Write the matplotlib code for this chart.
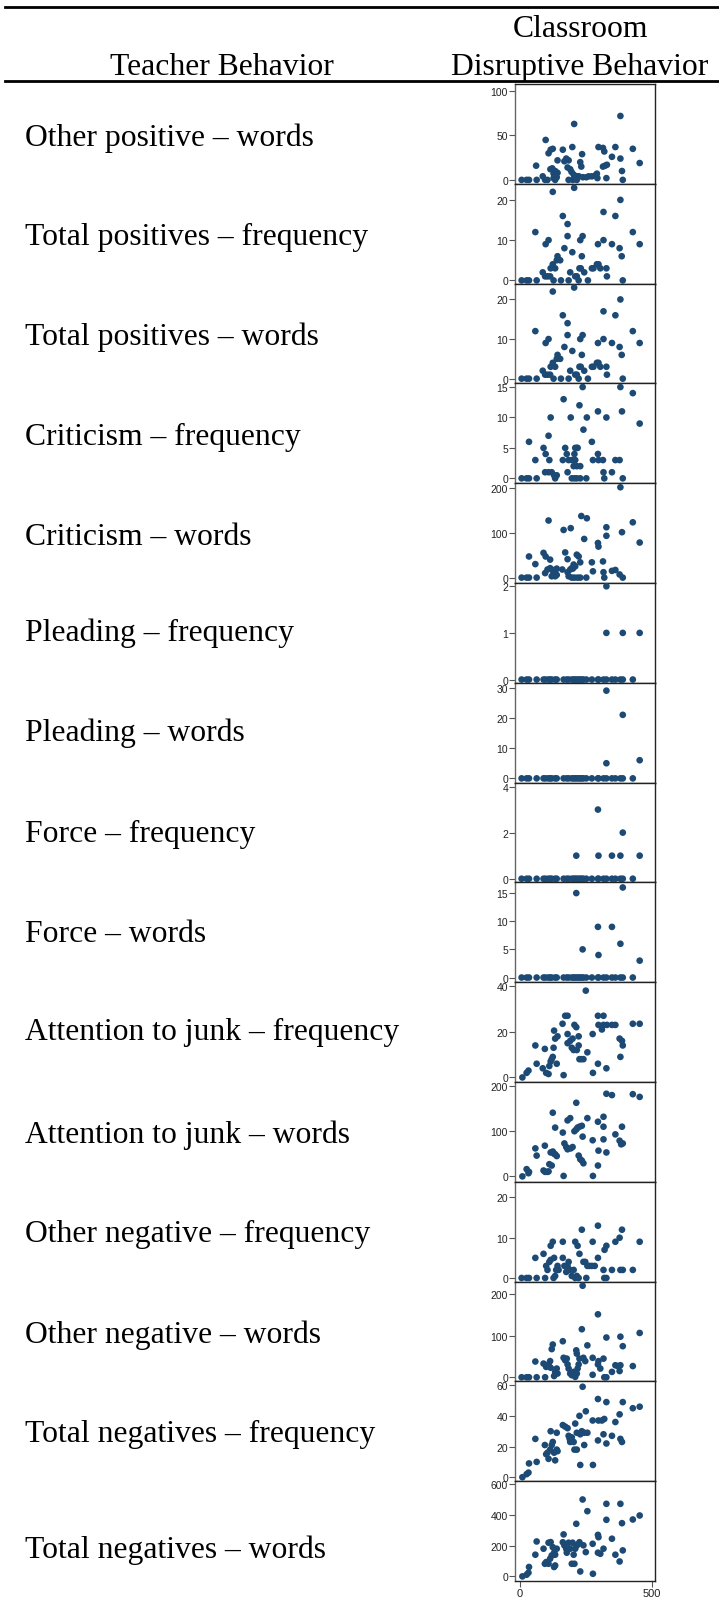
import matplotlib
matplotlib.use("Agg")
import matplotlib.pyplot as plt
from matplotlib.lines import Line2D

# ---------------- data ----------------
row_labels = [
    "Other positive – words",
    "Total positives – frequency",
    "Total positives – words",
    "Criticism – frequency",
    "Criticism – words",
    "Pleading – frequency",
    "Pleading – words",
    "Force – frequency",
    "Force – words",
    "Attention to junk – frequency",
    "Attention to junk – words",
    "Other negative – frequency",
    "Other negative – words",
    "Total negatives – frequency",
    "Total negatives – words",
]

header_left = "Teacher Behavior"
header_right = "Classroom\nDisruptive Behavior"

x_ticks = [0, 500]

y_ticks = [
    [0, 50, 100], [0, 10, 20], [0, 10, 20], [0, 5, 10, 15], [0, 100, 200],
    [0, 1, 2], [0, 10, 20, 30], [0, 2, 4], [0, 5, 10, 15], [0, 20, 40],
    [0, 100, 200], [0, 10, 20], [0, 100, 200], [0, 20, 40, 60], [0, 200, 400, 600],
]

y_limits = [
    (-4.4, 108), (-0.8, 24), (-1.2, 24), (-0.8, 15.6), (-12, 210),
    (-0.07, 2.07), (-1.4, 31.6), (-0.16, 4.17), (-0.83, 16.9), (-2, 41.7),
    (-12, 209), (-0.9, 23.9), (-10, 231), (-2.6, 62.5), (-30, 619),
]

other_pos_words = [(6,0),(25,0),(34,0),(61,16),(63,0),(86,4),(97,45),(108,30),(116,34),(124,35),
    (115,12),(122,13),(133,10),(142,8),(127,7),(139,3),(142,22),(95,0),(104,0),(133,0),(127,2),
    (162,34),(168,21),(175,24),(184,22),(180,14),(190,12),(184,0),
    (198,37),(205,63),(195,9),(203,6),(209,3),(215,4),(200,0),(215,0),
    (228,20),(232,15),(235,29),(223,4),(238,3),(251,3),(260,4),
    (272,4),(285,5),(291,7),(293,2),(297,37),(314,36),(319,32),(314,15),(322,16),(329,17),(327,2),
    (348,26),(361,37),(380,72),(380,24),(386,10),(389,0),(427,35),(453,19)]

total_pos_freq = [(6,0),(25,0),(34,0),(58,12),(63,0),(86,2),(97,9),(108,10),(95,1),(104,1),(114,1),
    (116,3),(124,4),(133,3),(124,22),(139,5),(142,6),(152,5),(127,0),(155,0),
    (162,16),(168,8),(180,14),(180,11),(184,0),(190,2),(198,7),(205,23),(209,1),(215,1),(222,0),
    (225,3),(230,3),(228,10),(237,11),(234,6),(243,2),(257,0),(272,3),(278,3),(291,4),(297,4),
    (304,3),(295,9),(316,17),(316,10),(327,3),(329,1),(348,9),(361,16),(377,8),(380,20),(385,6),
    (389,0),(427,12),(453,9)]

total_pos_words = list(total_pos_freq)

criticism_freq = [(6,0),(25,0),(34,0),(34,6),(58,3),(63,0),(89,5),(97,4),(108,7),(111,3),(116,10),
    (95,1),(108,1),(120,1),(129,0.5),(133,0),(139,0.5),(165,13),(162,3),(171,5),(177,4),(184,3),
    (180,1),(192,10),(196,3),(203,2),(206,4),(209,5),(215,5),(218,5),(209,3),(215,2),(225,12),
    (228,2),(228,0),(237,15),(240,8),(251,0),(253,10),(272,6),(276,3),(295,11),(295,4),(297,3),
    (314,3),(316,1),(319,0),(327,10),(348,1),(361,3),(377,3),(380,15),(386,11),(389,0),(427,14),
    (453,9),(196,0),(206,0),(215,0)]

criticism_words = [(6,0),(25,0),(34,0),(34,47),(58,30),(63,0),(89,55),(97,47),(108,127),(114,40),
    (95,10),(104,18),(114,21),(120,3),(127,10),(133,3),(139,6),(165,106),(171,56),(180,41),
    (192,110),(196,21),(203,29),(209,25),(215,51),(222,47),(228,34),(184,3),(196,0),(206,0),
    (218,0),(228,0),(251,0),(232,137),(253,132),(243,86),(272,34),(276,14),(295,77),(297,69),
    (314,36),(316,12),(319,0),(327,112),(327,93),(348,15),(361,17),(377,7),(380,201),(386,101),
    (389,0),(427,123),(453,78),(120,18),(133,15),(139,20),(160,18),(180,12),(190,18),(200,20)]

zero_x = [6,25,34,63,89,97,108,114,120,133,139,165,177,184,196,203,209,215,222,228,234,240,
          251,272,295,297,316,327,348,361,380,389,427]

pleading_freq_nz = [(327,1),(389,1),(453,1),(327,2)]
pleading_words_nz = [(327,29),(389,21),(327,5),(453,6)]
force_freq_nz = [(213,1),(295,3),(297,1),(348,1),(380,1),(389,2),(453,1)]
force_words_nz = [(213,15),(237,5),(295,9),(297,4),(348,9),(380,6),(389,16),(453,3)]

junk_freq = [(9,0),(25,2),(32,3),(58,14),(63,6),(86,4),(94,12.5),(99,2),(108,1.5),(111,5),(116,7),
    (120,8),(124,9),(127,13),(129,20.5),(133,17),(142,18),(139,6),(165,1),(161,23.5),(171,27),
    (180,27),(180,19),(180,15),(190,16),(199,17),(196,13),(203,12),(215,12),(222,14),(206,23),
    (213,22),(222,18),(225,8),(232,8),(240,8),(249,38),(255,11),(275,19),(276,2),(295,27),
    (297,23),(316,27),(295,6),(310,21),(316,23),(329,23),(348,23),(361,23),(327,4),(377,17),
    (380,9),(386,16),(389,14),(427,23.5),(453,23.5)]

junk_words = [(9,0),(25,16),(32,7),(34,10),(58,62),(63,46),(89,13),(95,10),(104,10),(108,11),
    (94,68),(111,27),(120,24),(124,55),(129,50),(133,49),(139,45),(116,53),(124,141),(133,108),
    (162,97),(165,1),(168,73),(175,65),(180,124),(190,129),(180,60),(192,62),(199,65),(206,100),
    (213,104),(218,108),(225,110),(234,112),(213,163),(222,46),(228,38),(234,35),(240,29),
    (237,88),(255,129),(275,80),(276,1),(295,121),(316,132),(295,24),(297,57),(316,110),
    (316,82),(327,183),(327,53),(348,180),(361,93),(377,79),(383,71),(389,73),(386,110),
    (427,182),(453,176)]

other_neg_freq = [(6,0),(25,0),(34,0),(58,5),(63,0),(89,6),(95,0),(99,3),(104,2),(111,4),(116,4.5),
    (116,8),(124,9),(129,5),(127,0),(133,0.5),(137,2),(142,3),(146,2),(162,9),(162,5),(168,3),
    (175,1.5),(180,3),(184,4),(190,2),(196,0.5),(203,2),(209,0),(215,0.5),(222,0),(209,9),
    (218,8),(225,6),(234,12),(240,4),(247,4),(255,3),(263,3),(272,3),(283,3),(251,0),(275,9),
    (295,13),(295,5),(316,2),(319,0),(327,0),(320,7),(327,8),(348,2),(361,9),(377,10),(380,2),
    (386,12),(389,2),(427,2),(453,9)]

other_neg_words = [(6,0),(25,0),(34,0),(58,38),(63,0),(89,33),(95,0),(99,25),(108,31),(114,39),
    (116,23),(120,68),(124,79),(129,3),(133,13),(139,21),(142,9),(162,87),(165,47),(171,41),
    (177,45),(180,31),(184,21),(190,9),(196,5),(203,13),(209,1),(215,9),(218,21),(222,31),
    (225,45),(213,65),(215,57),(234,116),(237,221),(240,47),(247,39),(255,77),(275,6),(275,47),
    (295,152),(295,31),(297,39),(304,21),(316,45),(319,0),(327,0),(327,96),(348,13),(361,29),
    (370,27),(377,15),(380,29),(380,98),(389,75),(427,27),(453,107)]

total_neg_freq = [(9,0),(25,2),(32,3),(34,9),(63,10),(58,25),(94,21),(99,15),(104,16),(108,12),
    (114,18),(116,30),(120,21),(124,23),(129,16),(133,11),(139,18),(142,17),(139,29),(162,34),
    (171,33),(180,32),(184,27),(188,25),(190,23),(196,26),(203,23),(209,35),(215,29),(206,18),
    (215,18),(225,40),(228,28),(234,30),(243,29),(228,8),(237,59),(243,21),(249,43),(255,29),
    (275,37),(276,8),(295,51),(295,24),(297,37),(310,37),(319,38),(316,28),(327,49),(327,22),
    (348,27),(361,36),(377,41),(380,25),(389,49),(386,23),(427,45),(453,46)]

total_neg_words = [(9,0),(25,11),(32,24),(34,61),(58,141),(63,227),(89,180),(94,82),(99,93),
    (108,219),(116,223),(124,190),(129,154),(133,141),(139,180),(108,82),(114,115),(120,136),
    (129,61),(133,71),(165,273),(162,222),(168,201),(175,179),(177,154),(184,219),(190,180),
    (199,219),(203,141),(209,180),(215,201),(222,212),(225,222),(196,82),(206,82),(213,342),
    (228,32),(237,500),(240,202),(249,158),(255,424),(275,212),(276,17),(295,270),(297,255),
    (295,154),(304,147),(316,180),(327,472),(327,368),(348,245),(361,141),(380,472),(377,97),
    (386,346),(389,169),(427,370),(453,396)]

panels = [
    other_pos_words, total_pos_freq, total_pos_words, criticism_freq, criticism_words,
    [(x, 0) for x in zero_x] + pleading_freq_nz,
    [(x, 0) for x in zero_x] + pleading_words_nz,
    [(x, 0) for x in zero_x] + force_freq_nz,
    [(x, 0) for x in zero_x] + force_words_nz,
    junk_freq, junk_words, other_neg_freq, other_neg_words, total_neg_freq, total_neg_words,
]

# ---------------- layout ----------------
W, H = 719, 1606
fig = plt.figure(figsize=(W / 100, H / 100), dpi=100)
fig.patch.set_facecolor("white")

serif = ["Liberation Serif", "DejaVu Serif"]
sans = ["Liberation Sans", "DejaVu Sans"]
dot_color = "#1c4a74"

ax_left, ax_right = 515, 655
ax_top, ax_bottom = 85, 1582
n = len(panels)
ph = (ax_bottom - ax_top) / n

label_centers = [136, 234.5, 335, 435, 535, 631, 731, 832, 932, 1030, 1133, 1232, 1333, 1432, 1548]

for i, pts in enumerate(panels):
    top = ax_top + i * ph
    ax = fig.add_axes([ax_left / W, 1 - (top + ph) / H, (ax_right - ax_left) / W, ph / H])
    xs = [p[0] for p in pts]
    ys = [p[1] for p in pts]
    ax.scatter(xs, ys, s=23, color=dot_color, edgecolors="none", zorder=3, clip_on=False)
    ax.set_xlim(-19, 511)
    ax.set_ylim(*y_limits[i])
    ax.set_yticks(y_ticks[i])
    ax.set_yticklabels([str(t) for t in y_ticks[i]], fontsize=7.5, family=sans, color="#222222")
    ax.tick_params(axis="y", length=4, width=0.8, color="#555555", pad=1)
    for side in ["top", "right", "bottom"]:
        ax.spines[side].set_color("#222222")
        ax.spines[side].set_linewidth(1.0)
    ax.spines["left"].set_color("#666666")
    ax.spines["left"].set_linewidth(1.0)
    if i == n - 1:
        ax.set_xticks(x_ticks)
        ax.set_xticklabels([str(t) for t in x_ticks], fontsize=8, family=sans, color="#222222")
        ax.tick_params(axis="x", length=4, width=0.8, color="#555555", pad=1)
    else:
        ax.set_xticks([])
    fig.text(25 / W, 1 - (label_centers[i] + 10) / H, row_labels[i], ha="left", va="baseline",
             fontsize=22.8, family=serif, color="black")

# header
fig.text(222 / W, 1 - 75 / H, header_left, ha="center", va="baseline",
         fontsize=22.8, family=serif, color="black")
fig.text(580 / W, 1 - 37 / H, header_right.split("\n")[0], ha="center", va="baseline",
         fontsize=22.8, family=serif, color="black")
fig.text(580 / W, 1 - 75 / H, header_right.split("\n")[1], ha="center", va="baseline",
         fontsize=22.8, family=serif, color="black")

fig.add_artist(Line2D([5 / W, 1.0], [1 - 8 / H, 1 - 8 / H], color="black", linewidth=2.0))
fig.add_artist(Line2D([5 / W, 1.0], [1 - 82 / H, 1 - 82 / H], color="black", linewidth=2.0))

fig.savefig("out.png", dpi=100, facecolor="white")
